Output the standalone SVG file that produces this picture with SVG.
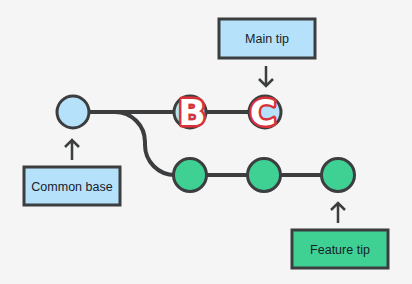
<svg xmlns="http://www.w3.org/2000/svg" width="412" height="284" viewBox="0 0 412 284">
<style>
.line{fill:none;stroke:#3b3d3f;stroke-width:4;stroke-linecap:round}
.arr{fill:none;stroke:#3b3d3f;stroke-width:2.5;stroke-linecap:butt;stroke-linejoin:miter}
.blue{fill:#b6e1fa;stroke:#3b3d3f;stroke-width:3}
.green{fill:#3fd094;stroke:#3b3d3f;stroke-width:3}
.lbl{font-family:"Liberation Sans",Arial,sans-serif;font-size:12.5px;fill:#17222a;text-anchor:middle}
.big{font-family:"DejaVu Sans","Liberation Sans",sans-serif;font-weight:bold;font-size:36px;fill:#ffffff;stroke:#d8323a;stroke-width:5;stroke-linejoin:round;paint-order:stroke;text-anchor:middle}
</style>
<rect width="412" height="284" fill="#f5f5f5"/>
<g id="connectors">
<path class="line" d="M89 112 H265"/>
<path class="line" d="M89 112 H115 A30 30 0 0 1 145 142 V145 A30 30 0 0 0 175 175 H338"/>
<path class="arr" d="M266 66 V86 M259 79 L266 86 L273 79"/>
<path class="arr" d="M72 160 V140 M65 147 L72 140 L79 147"/>
<path class="arr" d="M338 223 V203 M331 210 L338 203 L345 210"/>
</g>
<g id="common-base-commit"><circle class="blue" cx="73" cy="112" r="16"/></g>
<g id="commit-B"><circle class="blue" cx="190" cy="112" r="16"/><text class="big" x="192" y="125">B</text></g>
<g id="commit-C"><circle class="blue" cx="265" cy="112" r="16"/><text class="big" x="263" y="125">C</text></g>
<g id="feature-1"><circle class="green" cx="190" cy="175" r="16.5"/></g>
<g id="feature-2"><circle class="green" cx="264" cy="175" r="16.5"/></g>
<g id="feature-3"><circle class="green" cx="338" cy="175" r="16.5"/></g>
<g id="main-tip"><rect class="blue" x="219" y="19" width="96" height="39"/><text class="lbl" x="267" y="42.5">Main tip</text></g>
<g id="common-base"><rect class="blue" x="24" y="167" width="96" height="38"/><text class="lbl" x="72" y="190.5">Common base</text></g>
<g id="feature-tip"><rect class="green" x="292" y="230" width="96" height="38"/><text class="lbl" x="340" y="253.5">Feature tip</text></g>
</svg>
